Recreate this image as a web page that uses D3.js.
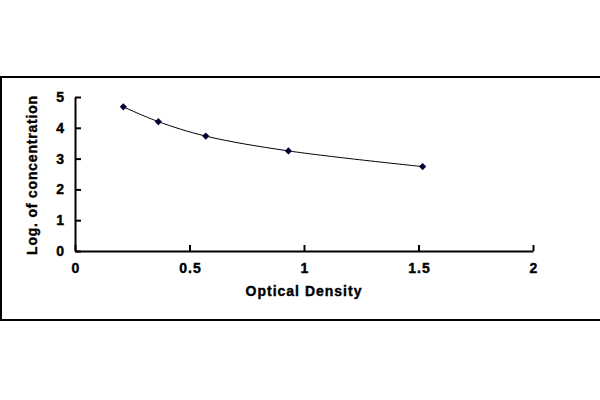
<!DOCTYPE html>
<html><head><meta charset="utf-8">
<script src="https://cdn.jsdelivr.net/npm/d3@7"></script>
<style>body{margin:0;background:#fff}svg{display:block}</style>
</head><body><svg id="c" width="600" height="400"></svg>
<script>
const odValues = [0.211, 0.364, 0.571, 0.932, 1.518];
const logConc = [4.68, 4.2, 3.73, 3.25, 2.74];
const xTicks = [0, 0.5, 1, 1.5, 2];
const yTicks = [0, 1, 2, 3, 4, 5];
const xTitle = "Optical Density";
const yTitle = "Log. of concentration";

const svg = d3.select("#c");
const font = "'Liberation Sans', Arial, sans-serif";
svg.append("rect").attr("x",1).attr("y",77).attr("width",602).attr("height",243)
  .attr("fill","#fff").attr("stroke","#000").attr("stroke-width",2);

const x = d3.scaleLinear().domain([0,2]).range([75,533]);
const y = d3.scaleLinear().domain([0,5]).range([251,97]);

const xa = svg.append("g").attr("transform","translate(0,251)")
  .call(d3.axisBottom(x).tickValues(xTicks).tickFormat(d3.format("")).tickSizeInner(-6).tickSizeOuter(0).tickPadding(12));
const ya = svg.append("g").attr("transform","translate(75,0)")
  .call(d3.axisLeft(y).tickValues(yTicks).tickFormat(d3.format("")).tickSizeInner(-6).tickSizeOuter(0).tickPadding(10));
[xa,ya].forEach(a=>{
  a.select(".domain").attr("stroke","#000").attr("stroke-width",2);
  a.selectAll(".tick line").attr("stroke","#000").attr("stroke-width",2);
  a.selectAll("text").attr("font-family",font).attr("font-weight","bold").attr("font-size",14)
    .attr("letter-spacing",1).attr("fill","#000").attr("stroke","#000").attr("stroke-width",0.4);
});
xa.selectAll("text").attr("dx",0.5);

const pts = odValues.map((v,i)=>[v,logConc[i]]);
svg.append("path").datum(pts)
  .attr("d", d3.line().x(d=>x(d[0])).y(d=>y(d[1])).curve(d3.curveCatmullRom))
  .attr("fill","none").attr("stroke","#000").attr("stroke-width",1);
svg.selectAll(".pt").data(pts).enter().append("path")
  .attr("transform",d=>`translate(${x(d[0])},${y(d[1])}) rotate(45)`)
  .attr("d", d3.symbol(d3.symbolSquare, 26)())
  .attr("fill","#000033");

svg.append("text").attr("x",304).attr("y",296).attr("text-anchor","middle")
  .attr("font-family",font).attr("font-weight","bold").attr("font-size",14).attr("letter-spacing",1)
  .attr("stroke","#000").attr("stroke-width",0.4).text(xTitle);
svg.append("text").attr("transform","translate(37,175) rotate(-90)").attr("text-anchor","middle")
  .attr("font-family",font).attr("font-weight","bold").attr("font-size",14).attr("letter-spacing",0.8)
  .attr("stroke","#000").attr("stroke-width",0.4).text(yTitle);
</script></body></html>
